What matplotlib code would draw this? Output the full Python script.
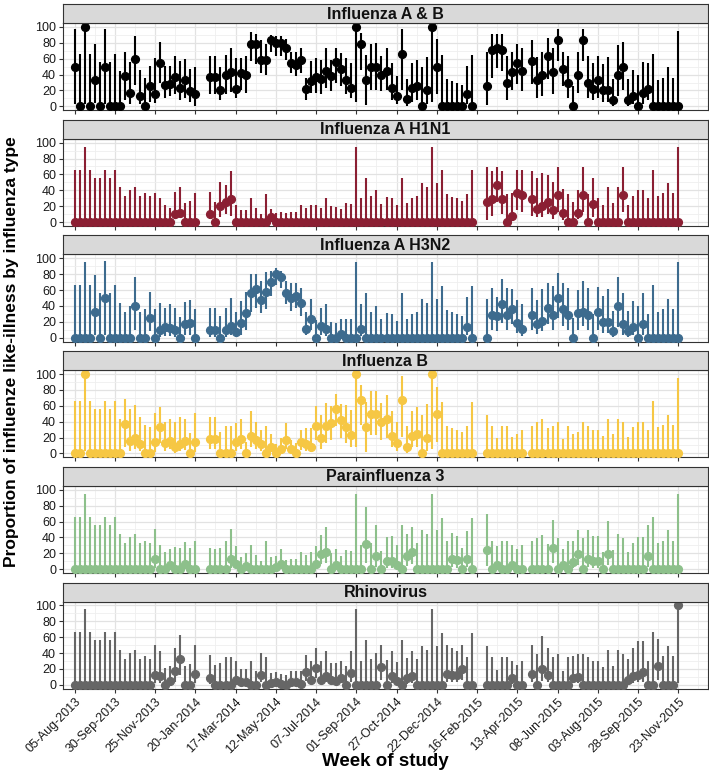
import numpy as np
import matplotlib.pyplot as plt

plt.rcParams['font.family'] = ['Liberation Sans', 'DejaVu Sans']

nan = np.nan

# --- weeks of study: 0 = 05-Aug-2013, one point per week, some weeks without data ---
n_weeks = 121
missing_weeks = [25, 26, 80, 81, 90]

# upper 95% limit in weeks where nothing was detected (depends only on week sample)
zero_upper = [66, 66, 95, 66, 56, 56, 66, 56, 66, 44,
              33, 40, 44, 33, 36, 33, 36, 30, 21, 18,
              28, 26, 24, 26, 36, nan, nan, 26, 25, 27,
              35, 35, 22, 15, 15, 30, 18, 10, 35, 15,
              12, 13, 12, 13, 13, 22, 18, 22, 22, 18,
              30, 20, 19, 16, 24, 23, 95, 30, 56, 33,
              40, 23, 31, 30, 21, 56, 24, 30, 33, 49,
              44, 95, 49, 65, 35, 32, 30, 27, 35, 65,
              nan, nan, 49, 35, 19, 35, 35, 21, 25, 30,
              nan, 35, 39, 43, 32, 35, 39, 18, 35, 25,
              27, 39, 35, 30, 30, 22, 44, 24, 44, 39,
              21, 33, 40, 40, 30, 66, 33, 36, 49, 36,
              95]

tick_weeks = list(range(0, 121, 8))
tick_labels = ['05-Aug-2013', '30-Sep-2013', '25-Nov-2013', '20-Jan-2014',
               '17-Mar-2014', '12-May-2014', '07-Jul-2014', '01-Sep-2014',
               '27-Oct-2014', '22-Dec-2014', '16-Feb-2015', '13-Apr-2015',
               '08-Jun-2015', '03-Aug-2015', '28-Sep-2015', '23-Nov-2015']

# --- Influenza A & B: weeks with detections ---
ab_weeks = [0, 2, 4, 6, 10, 11, 12, 13, 15, 16, 17, 18, 19, 20, 21, 22, 23, 24,
            27, 28, 29, 30, 31, 32, 33, 34, 35, 36, 37, 38, 39, 40, 41, 42, 43, 44,
            45, 46, 47, 48, 49, 50, 51, 52, 53, 54, 55, 56, 57, 58, 59, 60, 61, 62,
            63, 64, 65, 66, 67, 68, 70, 71, 72, 78, 82, 83, 84, 85, 86, 87, 88, 89,
            91, 92, 93, 94, 95, 96, 97, 98, 100, 101, 102, 103, 104, 105, 106, 107,
            108, 109, 110, 111, 113, 114]
ab_p = [50, 100, 33, 50, 38, 17, 60, 13, 25, 15, 55, 27, 28, 37, 23, 33, 19, 15,
        37, 37, 21, 40, 43, 22, 42, 40, 78, 78, 58, 58, 83, 80, 80, 73, 55, 52,
        58, 22, 32, 37, 34, 45, 38, 56, 47, 33, 23, 100, 78, 33, 50, 50, 39, 45,
        23, 13, 66, 9, 23, 25, 20, 100, 50, 15, 25, 71, 74, 71, 29, 43, 55, 44,
        57, 33, 40, 63, 43, 83, 47, 29, 40, 83, 29, 22, 33, 20, 20, 8,
        40, 50, 8, 13, 17, 22]
ab_lo = [3, 3, 4, 3, 8, 3, 27, 3, 6, 4, 29, 11, 13, 15, 8, 10, 6, 1,
         15, 15, 8, 15, 18, 10, 21, 17, 57, 53, 42, 40, 69, 64, 64, 59, 42, 38,
         42, 8, 17, 17, 15, 23, 19, 29, 25, 15, 10, 6, 46, 2, 21, 21, 19, 21,
         8, 3, 21, 1, 6, 8, 3, 6, 15, 3, 2, 36, 48, 44, 8, 21, 28, 19,
         28, 10, 13, 34, 16, 57, 25, 10, 17, 57, 10, 8, 10, 6, 6, 1,
         13, 21, 1, 3, 3, 8]
ab_hi = [97, 100, 79, 97, 69, 56, 88, 46, 51, 61, 81, 51, 51, 64, 57, 60, 47, 50,
         64, 64, 50, 65, 74, 61, 61, 64, 94, 91, 83, 78, 90, 89, 89, 85, 69, 69,
         74, 36, 57, 61, 59, 73, 59, 74, 67, 61, 55, 100, 92, 65, 78, 80, 64, 73,
         55, 38, 98, 35, 55, 59, 62, 100, 85, 51, 69, 91, 91, 91, 63, 69, 79, 73,
         83, 62, 69, 86, 74, 98, 69, 63, 69, 98, 63, 55, 64, 53, 62, 34,
         77, 81, 34, 46, 56, 55]

# --- Influenza A H1N1 ---
h1_weeks = [20, 21, 27, 29, 30, 31, 39, 82, 83, 84, 85, 87, 88, 89, 91, 92, 93,
            94, 95, 96, 97, 100, 101, 103, 109]
h1_p = [10, 12, 10, 20, 25, 29, 6, 25, 29, 47, 29, 8, 37, 34, 29, 17, 20,
        25, 15, 34, 12, 11, 34, 23, 34]
h1_lo = [4, 6, 4, 6, 10, 8, 1, 2, 8, 25, 10, 1, 15, 13, 8, 6, 6,
         10, 4, 13, 2, 4, 13, 6, 13]
h1_hi = [38, 44, 38, 51, 47, 64, 17, 69, 64, 69, 64, 36, 65, 65, 64, 55, 62,
         59, 51, 69, 42, 40, 69, 55, 69]

# --- Influenza A H3N2 ---
h3_weeks = [4, 6, 12, 15, 17, 18, 19, 20, 22, 23, 27, 28,
            30, 31, 32, 33, 34, 35, 36, 37, 38, 39, 40, 41, 42, 43, 44, 45, 46, 47,
            49, 50, 53, 57, 78, 83, 84, 85, 86, 87, 88, 89,
            91, 92, 93, 94, 95, 96, 97, 98, 100, 101, 102,
            104, 105, 106, 107, 108, 109, 110, 111, 113]
h3_p = [33, 50, 40, 25, 10, 13, 12, 10, 17, 19, 10, 10,
        10, 15, 7, 19, 31, 56, 61, 48, 58, 70, 80, 76, 56, 50, 52, 44, 11, 24,
        15, 11, 5, 11, 14, 29, 27, 43, 29, 36, 18, 11,
        29, 17, 21, 37, 29, 50, 36, 29, 31, 33, 29,
        33, 20, 20, 8, 40, 17, 8, 13, 17]
h3_lo = [4, 3, 10, 8, 1, 2, 2, 1, 3, 4, 1, 1,
         1, 3, 1, 4, 10, 32, 38, 31, 36, 53, 67, 63, 42, 34, 38, 27, 4, 10,
         4, 2, 1, 2, 3, 10, 8, 19, 10, 17, 6, 2,
         10, 5, 8, 17, 10, 25, 15, 10, 10, 15, 10,
         10, 6, 6, 1, 13, 3, 1, 3, 3]
h3_hi = [79, 97, 76, 58, 44, 37, 42, 37, 45, 47, 37, 37,
         37, 50, 32, 46, 58, 80, 80, 71, 83, 84, 88, 84, 71, 69, 69, 63, 32, 49,
         37, 43, 23, 43, 51, 63, 51, 74, 63, 61, 47, 43,
         63, 48, 62, 69, 65, 81, 69, 63, 60, 71, 63,
         64, 53, 62, 34, 77, 56, 34, 46, 56]

# --- Influenza B ---
fb_weeks = [2, 10, 11, 12, 13, 16, 17, 18, 19, 20, 21, 22, 24, 27, 28, 32, 33,
            35, 36, 37, 39, 41, 42, 43,
            45, 46, 47, 48, 49, 50, 51, 52, 53, 54, 55, 56, 57, 58, 59, 60, 61,
            62, 63, 64, 65, 66, 67, 68, 70, 71, 72]
fb_p = [100, 37, 16, 20, 12, 14, 33, 13, 16, 8, 12, 16, 14, 18, 18, 14, 18,
        22, 17, 12, 8, 5, 17, 5,
        14, 12, 8, 35, 20, 34, 38, 56, 42, 33, 23, 100, 67, 33, 50, 50, 39,
        44, 22, 13, 67, 8, 22, 24, 20, 100, 50]
fb_lo = [3, 8, 3, 6, 3, 2, 13, 3, 5, 1, 3, 4, 2, 6, 6, 3, 5,
         8, 5, 3, 2, 1, 6, 1,
         4, 3, 2, 17, 6, 13, 17, 34, 20, 13, 8, 8, 36, 2, 23, 23, 17,
         20, 8, 3, 21, 1, 8, 8, 3, 6, 15]
fb_hi = [100, 68, 56, 61, 46, 51, 59, 40, 43, 39, 46, 44, 51, 46, 46, 38, 44,
         54, 39, 30, 25, 19, 38, 17,
         30, 32, 32, 60, 49, 64, 60, 75, 62, 61, 55, 100, 86, 65, 79, 79, 64,
         74, 54, 39, 98, 35, 54, 58, 62, 100, 84]

# --- Parainfluenza 3 ---
pf_weeks = [16, 19, 22, 31, 32, 34, 40, 41, 48, 49, 50, 52, 58, 60, 62, 63, 64,
            66, 67, 75, 76, 78, 82, 84, 87, 95, 97, 99, 100, 102, 103, 104, 106, 114]
pf_p = [13, 5, 7, 13, 6, 4, 3, 7, 6, 19, 22, 5, 32, 16, 10, 10, 5,
        16, 22, 13, 11, 13, 24, 5, 5, 27, 5, 9, 19, 13, 10, 10, 19, 16]
pf_lo = [2, 1, 1, 2, 1, 1, 1, 1, 1, 7, 8, 1, 8, 3, 2, 2, 1,
         4, 7, 3, 2, 3, 4, 1, 1, 8, 1, 2, 5, 3, 2, 2, 5, 3]
pf_hi = [50, 25, 34, 50, 29, 20, 17, 25, 29, 43, 53, 25, 78, 55, 41, 42, 31,
         44, 53, 46, 42, 48, 69, 29, 30, 62, 25, 36, 49, 49, 42, 42, 61, 55]

# --- Rhinovirus ---
rv_weeks = [16, 17, 19, 20, 21, 24, 27, 32, 33, 34, 37, 39, 40, 41, 43, 44, 45,
            46, 47, 48, 49, 50, 51, 52, 53, 55, 61, 63, 64, 66, 67, 74, 75, 76,
            77, 87, 91, 93, 94, 99, 100, 110, 111, 112, 113, 116, 120]
rv_p = [13, 11, 5, 18, 33, 14, 8, 6, 3, 3, 12, 2, 3, 1, 3, 3, 1,
        16, 6, 21, 6, 11, 6, 5, 9, 15, 22, 11, 5, 8, 11, 14, 13, 12,
        20, 8, 14, 20, 12, 9, 10, 6, 11, 13, 16, 24, 100]
rv_lo = [2, 2, 1, 4, 12, 2, 1, 1, 0.5, 0.5, 3, 0.3, 0.5, 0.2, 0.5, 0.5, 0.2,
         5, 1, 8, 1, 3, 1, 1, 2, 4, 6, 2, 1, 1, 2, 3, 3, 3,
         6, 1, 3, 5, 3, 2, 2, 1, 2, 3, 4, 6, 2]
rv_hi = [50, 42, 24, 46, 63, 50, 37, 30, 20, 20, 40, 15, 16, 14, 17, 17, 18,
         38, 30, 46, 30, 42, 28, 27, 30, 42, 50, 42, 29, 34, 42, 50, 46, 43,
         50, 30, 50, 61, 46, 36, 39, 32, 46, 55, 55, 58, 100]

titles = ['Influenza A & B', 'Influenza A H1N1', 'Influenza A H3N2',
          'Influenza B', 'Parainfluenza 3', 'Rhinovirus']
colors = ['#000000', '#8B1F33', '#3D6B8E', '#F6C744', '#8DC08B', '#666666']
series = [(ab_weeks, ab_p, ab_lo, ab_hi), (h1_weeks, h1_p, h1_lo, h1_hi),
          (h3_weeks, h3_p, h3_lo, h3_hi), (fb_weeks, fb_p, fb_lo, fb_hi),
          (pf_weeks, pf_p, pf_lo, pf_hi), (rv_weeks, rv_p, rv_lo, rv_hi)]


# --- every week with data: zero unless listed as a detection ---
def full_series(weeks, p, lo, hi):
    wk = np.array([w for w in range(n_weeks) if w not in missing_weeks])
    pp = np.zeros(len(wk))
    ll = np.zeros(len(wk))
    hh = np.array(zero_upper, dtype=float)[wk]
    idx = np.searchsorted(wk, weeks)
    pp[idx] = p
    ll[idx] = lo
    hh[idx] = hi
    return wk, pp, ll, hh


W, H = 709, 771
fig = plt.figure(figsize=(W / 100, H / 100), dpi=100)
x0, x1 = 63, 708

for k in range(6):
    top = 23 + 115.7 * k
    bot = 110.3 + 115.7 * k
    ax = fig.add_axes([x0 / W, 1 - bot / H, (x1 - x0) / W, (bot - top) / H])
    wk, pp, ll, hh = full_series(*series[k])
    ax.vlines(wk, ll, hh, color=colors[k], lw=1.5, zorder=3)
    ax.plot(wk, pp, 'o', ms=5.6, color=colors[k], zorder=4)

    ax.set_xlim(-2.3, 125.9)
    ax.set_ylim(-5, 105)
    ax.set_yticks(range(0, 101, 20))
    ax.set_yticks(range(10, 100, 20), minor=True)
    ax.set_xticks(tick_weeks)
    ax.set_xticks(range(4, 125, 8), minor=True)
    ax.grid(which='major', color='#E2E2E2', lw=0.9)
    ax.grid(which='minor', color='#EFEFEF', lw=0.6)
    ax.set_axisbelow(True)
    ax.tick_params(which='minor', length=0)
    ax.tick_params(which='major', length=3, color='#333333', labelsize=9,
                   labelcolor='#1a1a1a', width=0.8, pad=2)
    for s in ax.spines.values():
        s.set_color('#333333')
        s.set_linewidth(0.8)
    if k < 5:
        ax.set_xticklabels([])
    else:
        ax.set_xticklabels(tick_labels, rotation=45, ha='right',
                           rotation_mode='anchor')

    # facet strip
    sax = fig.add_axes([x0 / W, 1 - top / H, (x1 - x0) / W, 19 / H])
    sax.set_facecolor('#D9D9D9')
    sax.set_xticks([])
    sax.set_yticks([])
    for s in sax.spines.values():
        s.set_color('#333333')
        s.set_linewidth(0.8)
    sax.text(0.5, 0.47, titles[k], transform=sax.transAxes, ha='center',
             va='center', fontsize=11.5, fontweight='bold', color='#111111')

fig.text((x0 + x1) / 2 / W, 1 - 762 / H, 'Week of study', ha='center',
         va='center', fontsize=13.5, fontweight='bold')
fig.text(12 / W, 1 - 352 / H,
         'Proportion of influenze like-illness by influenza type',
         rotation=90, ha='center', va='center', fontsize=12.5, fontweight='bold')

fig.savefig('out.png', dpi=100)
